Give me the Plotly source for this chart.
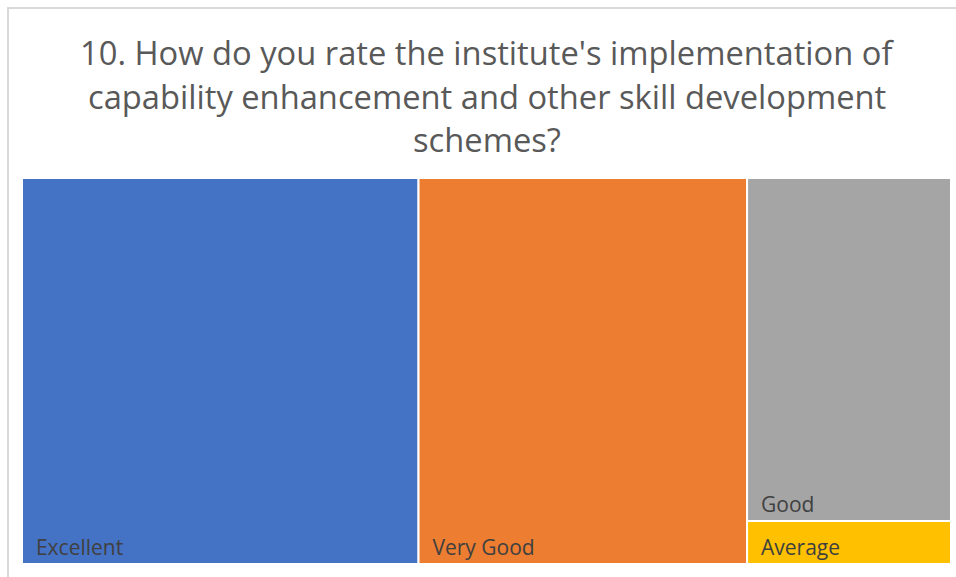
import plotly.graph_objects as go

W, H = 956, 577

ratings = ["Excellent", "Very Good", "Good", "Average"]
responses = [35, 29, 16, 2]
colors = ["#4472C4", "#ED7D31", "#A5A5A5", "#FFC000"]

title_lines = [
    "10. How do you rate the institute's implementation of",
    "capability enhancement and other skill development",
    "schemes?",
]

fig = go.Figure(
    go.Treemap(
        labels=ratings,
        parents=[""] * len(ratings),
        values=responses,
        sort=False,
        branchvalues="remainder",
        tiling=dict(packing="squarify", pad=0),
        marker=dict(colors=colors, line=dict(color="white", width=2), pad=dict(t=0, l=0, r=0, b=0)),
        texttemplate="\u00a0\u00a0%{label}",
        textposition="bottom left",
        textfont=dict(family="Open Sans", size=21, color="#404040"),
        pathbar=dict(visible=False),
        root=dict(color="white"),
        domain=dict(x=[22 / W, 951 / W], y=[1 - 564 / H, 1 - 178 / H]),
        hovertemplate="%{label}: %{value}<extra></extra>",
    )
)

# title as three separate lines to get Excel-like line spacing
for i, line in enumerate(title_lines):
    fig.add_annotation(
        text=line,
        x=487 / W,
        y=1 - (52 + 44 * i) / H,
        xref="paper",
        yref="paper",
        xanchor="center",
        yanchor="middle",
        showarrow=False,
        font=dict(family="Open Sans", size=32.7, color="#595959"),
    )

# chart border (only top and left edges fall inside the window)
fig.add_shape(
    type="rect",
    xref="paper",
    yref="paper",
    x0=8 / W,
    y0=-0.05,
    x1=1.05,
    y1=1 - 8 / H,
    line=dict(color="#D9D9D9", width=2),
)

fig.update_layout(
    width=W,
    height=H,
    margin=dict(l=0, r=0, t=0, b=0),
    paper_bgcolor="white",
    plot_bgcolor="white",
)

# drop the default page margin so the figure lines up with the window
fig.write_html(
    "out.html",
    config={"displayModeBar": False},
    post_script="document.body.style.margin='0';document.body.style.overflow='hidden';",
)
